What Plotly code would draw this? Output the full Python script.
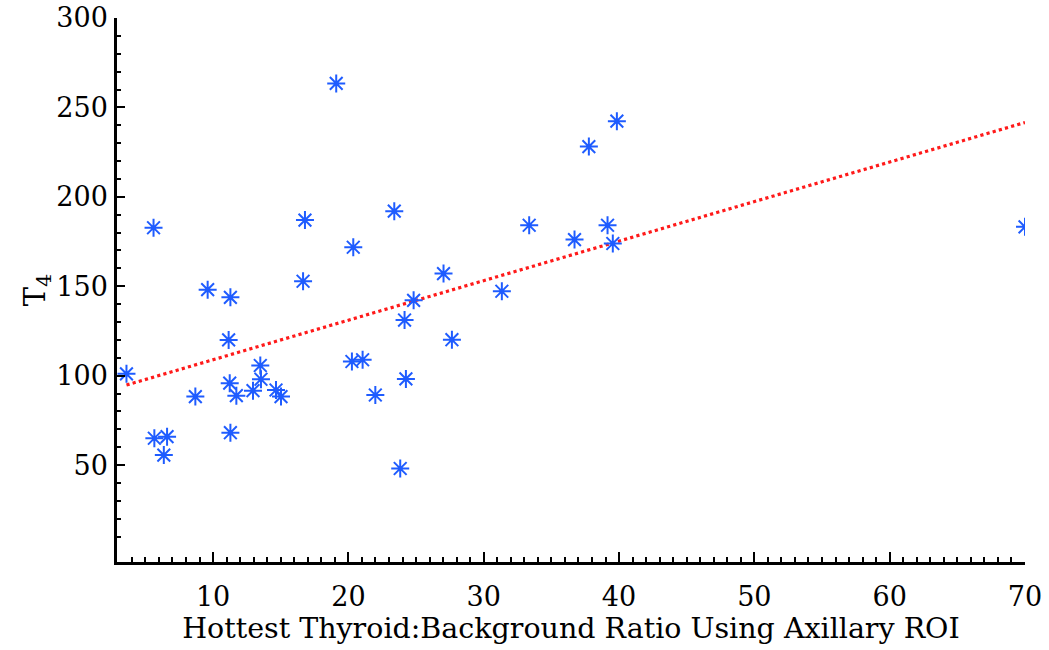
import plotly.graph_objects as go

# Hottest thyroid:background ratio (axillary ROI) vs T4
ratio = [3.6, 5.6, 5.66, 6.6, 6.36, 8.69, 9.6, 11.28, 11.15, 11.23,
         11.28, 11.72, 12.95, 13.49, 13.54, 14.65, 15.02, 16.65, 16.79, 19.1,
         20.36, 20.26, 21.05, 21.99, 23.39, 23.83, 24.25, 24.15, 24.82, 27.65,
         27.03, 31.34, 33.36, 36.71, 37.77, 39.15, 39.54, 39.84, 70.0]
t4 = [101, 182.7, 65, 65.9, 55.6, 88.3, 148.1, 143.8, 120, 95.8,
      68.1, 88.8, 91.6, 105.7, 98, 92, 88.3, 152.8, 187, 263.4,
      171.8, 107.9, 108.9, 89.2, 192, 48.1, 98.2, 131.1, 142.1, 120.1,
      157.1, 147.2, 184.1, 176.1, 228.1, 184.1, 173.9, 242.3, 183.2]

# Linear fit
fit_slope = 2.211
fit_intercept = 86.8

y_ticks = [50, 100, 150, 200, 250, 300]
y_minor = [10, 20, 30, 40, 60, 70, 80, 90, 110, 120, 130, 140, 160, 170, 180, 190,
           210, 220, 230, 240, 260, 270, 280, 290]
x_ticks = [10, 20, 30, 40, 50, 60, 70]
x_minor = [v for v in range(4, 70) if v % 10 != 0]

blue = "#1f5cff"
font_family = "DejaVu Serif"

fit_x = [min(ratio), max(ratio)]
fit_y = [fit_intercept + fit_slope * v for v in fit_x]

fig = go.Figure()
fig.add_trace(go.Scatter(
    x=fit_x, y=fit_y, mode="lines",
    line=dict(color="#ff1a1a", width=3.2, dash="dot"),
    hoverinfo="skip", showlegend=False,
))
fig.add_trace(go.Scatter(
    x=ratio, y=t4, mode="markers",
    marker=dict(symbol="asterisk-open", size=15, color=blue,
                line=dict(color=blue, width=2)),
    showlegend=False,
))
fig.add_trace(go.Scatter(
    x=ratio, y=t4, mode="markers",
    marker=dict(symbol="circle", size=4.5, color=blue, line=dict(width=0)),
    hoverinfo="skip", showlegend=False,
))

fig.update_layout(
    width=1049, height=650,
    margin=dict(l=117, r=24, t=18, b=88),
    paper_bgcolor="white", plot_bgcolor="white",
    font=dict(family=font_family, color="black", size=27),
)
fig.update_xaxes(
    range=[2.9, 70], showgrid=False, zeroline=False, automargin=False,
    showline=True, linecolor="black", linewidth=2.5,
    tickmode="array", tickvals=x_ticks,
    ticks="inside", ticklen=10, tickwidth=2, tickcolor="black",
    minor=dict(tickmode="array", tickvals=x_minor, ticks="inside",
               ticklen=5, tickwidth=1.5, tickcolor="black", showgrid=False),
    tickfont=dict(family=font_family, size=27),
    ticklabelstandoff=9,
    title=dict(text="Hottest Thyroid:Background Ratio Using Axillary ROI",
               font=dict(family=font_family, size=28.5), standoff=3),
)
fig.update_yaxes(
    range=[-4.2, 300], showgrid=False, zeroline=False, automargin=False,
    showline=True, linecolor="black", linewidth=2.5,
    tickmode="array", tickvals=y_ticks,
    ticks="inside", ticklen=8, tickwidth=2, tickcolor="black",
    minor=dict(tickmode="array", tickvals=y_minor, ticks="inside",
               ticklen=4, tickwidth=1.5, tickcolor="black", showgrid=False),
    tickfont=dict(family=font_family, size=27),
    ticklabelstandoff=1,
    title=dict(text="T<sub>4</sub>", font=dict(family=font_family, size=29), standoff=3),
)

fig.write_html("out.html")
